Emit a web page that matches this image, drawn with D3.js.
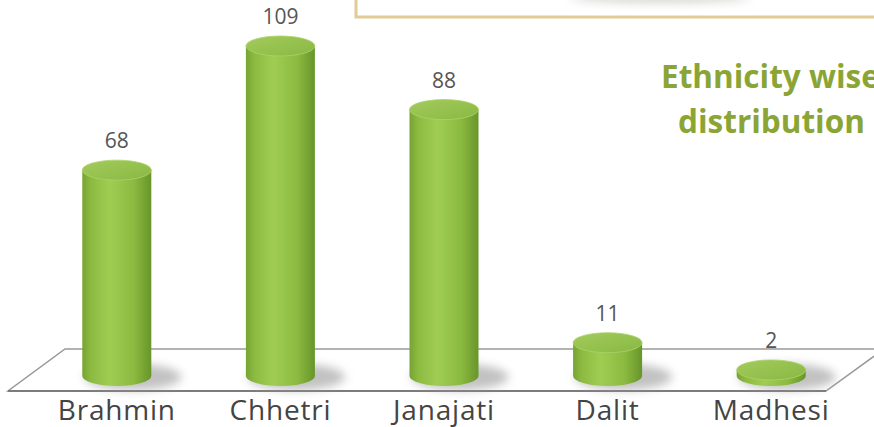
<!DOCTYPE html>
<html>
<head>
<meta charset="utf-8">
<script src="https://cdn.jsdelivr.net/npm/d3@7"></script>
<style>
  body { margin: 0; background: #fff; }
  svg { display: block; }
</style>
</head>
<body>
<script>
let categories = ['Brahmin', 'Chhetri', 'Janajati', 'Dalit', 'Madhesi'];
let values = [68, 109, 88, 11, 2];
let titleLines = ['Ethnicity wise', 'distribution'];

let width = 874;
let height = 427;
let baseY = 376;   // centre of the base ellipse
let cylW = 69;
let ry = 10;

var svg = d3.select("body").append("svg")
  .attr("width", width)
  .attr("height", height);

let defs = svg.append('defs');

let sideGrad = defs.append('linearGradient').attr('id', 'side')
  .attr('x1', 0).attr('x2', 1).attr('y1', 0).attr('y2', 0);
sideGrad.append('stop').attr('offset', '0%').attr('stop-color', '#76a332');
sideGrad.append('stop').attr('offset', '12%').attr('stop-color', '#8cba40');
sideGrad.append('stop').attr('offset', '40%').attr('stop-color', '#a0cc52');
sideGrad.append('stop').attr('offset', '75%').attr('stop-color', '#8bba40');
sideGrad.append('stop').attr('offset', '100%').attr('stop-color', '#67952a');

let topGrad = defs.append('linearGradient').attr('id', 'top')
  .attr('x1', 0).attr('x2', 1).attr('y1', 0).attr('y2', 1);
topGrad.append('stop').attr('offset', '0%').attr('stop-color', '#a2cb5c');
topGrad.append('stop').attr('offset', '100%').attr('stop-color', '#8ab843');

defs.append('filter').attr('id', 'blur')
  .attr('x', '-50%').attr('y', '-100%').attr('width', '200%').attr('height', '300%')
  .append('feGaussianBlur').attr('stdDeviation', 5);

// top box (partially visible)
svg.append('rect')
  .attr('x', 356).attr('y', -10)
  .attr('width', 540).attr('height', 27)
  .attr('fill', '#fff')
  .attr('stroke', '#e2cc96')
  .attr('stroke-width', 3);
svg.append('ellipse')
  .attr('cx', 660).attr('cy', -2).attr('rx', 90).attr('ry', 4)
  .attr('fill', '#9a9a90').attr('opacity', 0.5)
  .attr('filter', 'url(#blur)');

// floor
let floor = [[65, 349], [884, 349], [826, 391], [8, 391]];
svg.append('path')
  .attr('d', d3.line()(floor) + 'Z')
  .attr('fill', '#fff')
  .attr('stroke', '#999')
  .attr('stroke-width', 1.5);
svg.append('line')
  .attr('x1', 8).attr('x2', 826).attr('y1', 391).attr('y2', 391)
  .attr('stroke', '#7c7c7c').attr('stroke-width', 2);

let x = d3.scalePoint()
  .domain(categories)
  .range([35, 853])
  .padding(0.5);

let y = d3.scaleLinear()
  .domain([0, 109])
  .range([baseY, 46]);

let g = svg.append('g');

let bars = g.selectAll('g.bar')
  .data(categories.map((c, i) => ({cat: c, value: values[i]})))
  .enter().append('g').attr('class', 'bar');

// shadow
bars.append('ellipse')
  .attr('cx', d => x(d.cat) + 16)
  .attr('cy', baseY + 1)
  .attr('rx', cylW / 2 + 14)
  .attr('ry', ry + 3)
  .attr('fill', '#999')
  .attr('opacity', 0.6)
  .attr('filter', 'url(#blur)');

// side
bars.append('path')
  .attr('d', d => {
    let cx = x(d.cat), r = cylW / 2, ty = y(d.value);
    return `M${cx - r},${ty} L${cx - r},${baseY} A${r},${ry} 0 0 0 ${cx + r},${baseY} L${cx + r},${ty} Z`;
  })
  .attr('fill', 'url(#side)');

// top
bars.append('ellipse')
  .attr('cx', d => x(d.cat))
  .attr('cy', d => y(d.value))
  .attr('rx', cylW / 2)
  .attr('ry', ry)
  .attr('fill', 'url(#top)')
  .attr('stroke', '#acd268')
  .attr('stroke-width', 0.8);

// value labels
bars.append('text')
  .attr('x', d => x(d.cat))
  .attr('y', d => y(d.value) - ry - 12)
  .attr('text-anchor', 'middle')
  .attr('font-family', '"Open Sans", sans-serif')
  .attr('font-size', 21)
  .attr('fill', '#555')
  .text(d => d.value);

// category labels
svg.append('g').selectAll('text')
  .data(categories)
  .enter().append('text')
  .attr('x', d => x(d))
  .attr('y', 420)
  .attr('text-anchor', 'middle')
  .attr('font-family', '"Open Sans", sans-serif')
  .attr('font-size', 28)
  .attr('letter-spacing', 0.8)
  .attr('fill', '#444')
  .text(d => d);

// title
svg.append('g').selectAll('text')
  .data(titleLines)
  .enter().append('text')
  .attr('x', (d, i) => i === 0 ? 661 : 678)
  .attr('y', (d, i) => 88 + i * 45)
  .attr('font-family', '"Open Sans", sans-serif')
  .attr('font-weight', 'bold')
  .attr('font-size', 31.5)
  .attr('fill', '#8aa535')
  .text(d => d);
</script>
</body>
</html>
